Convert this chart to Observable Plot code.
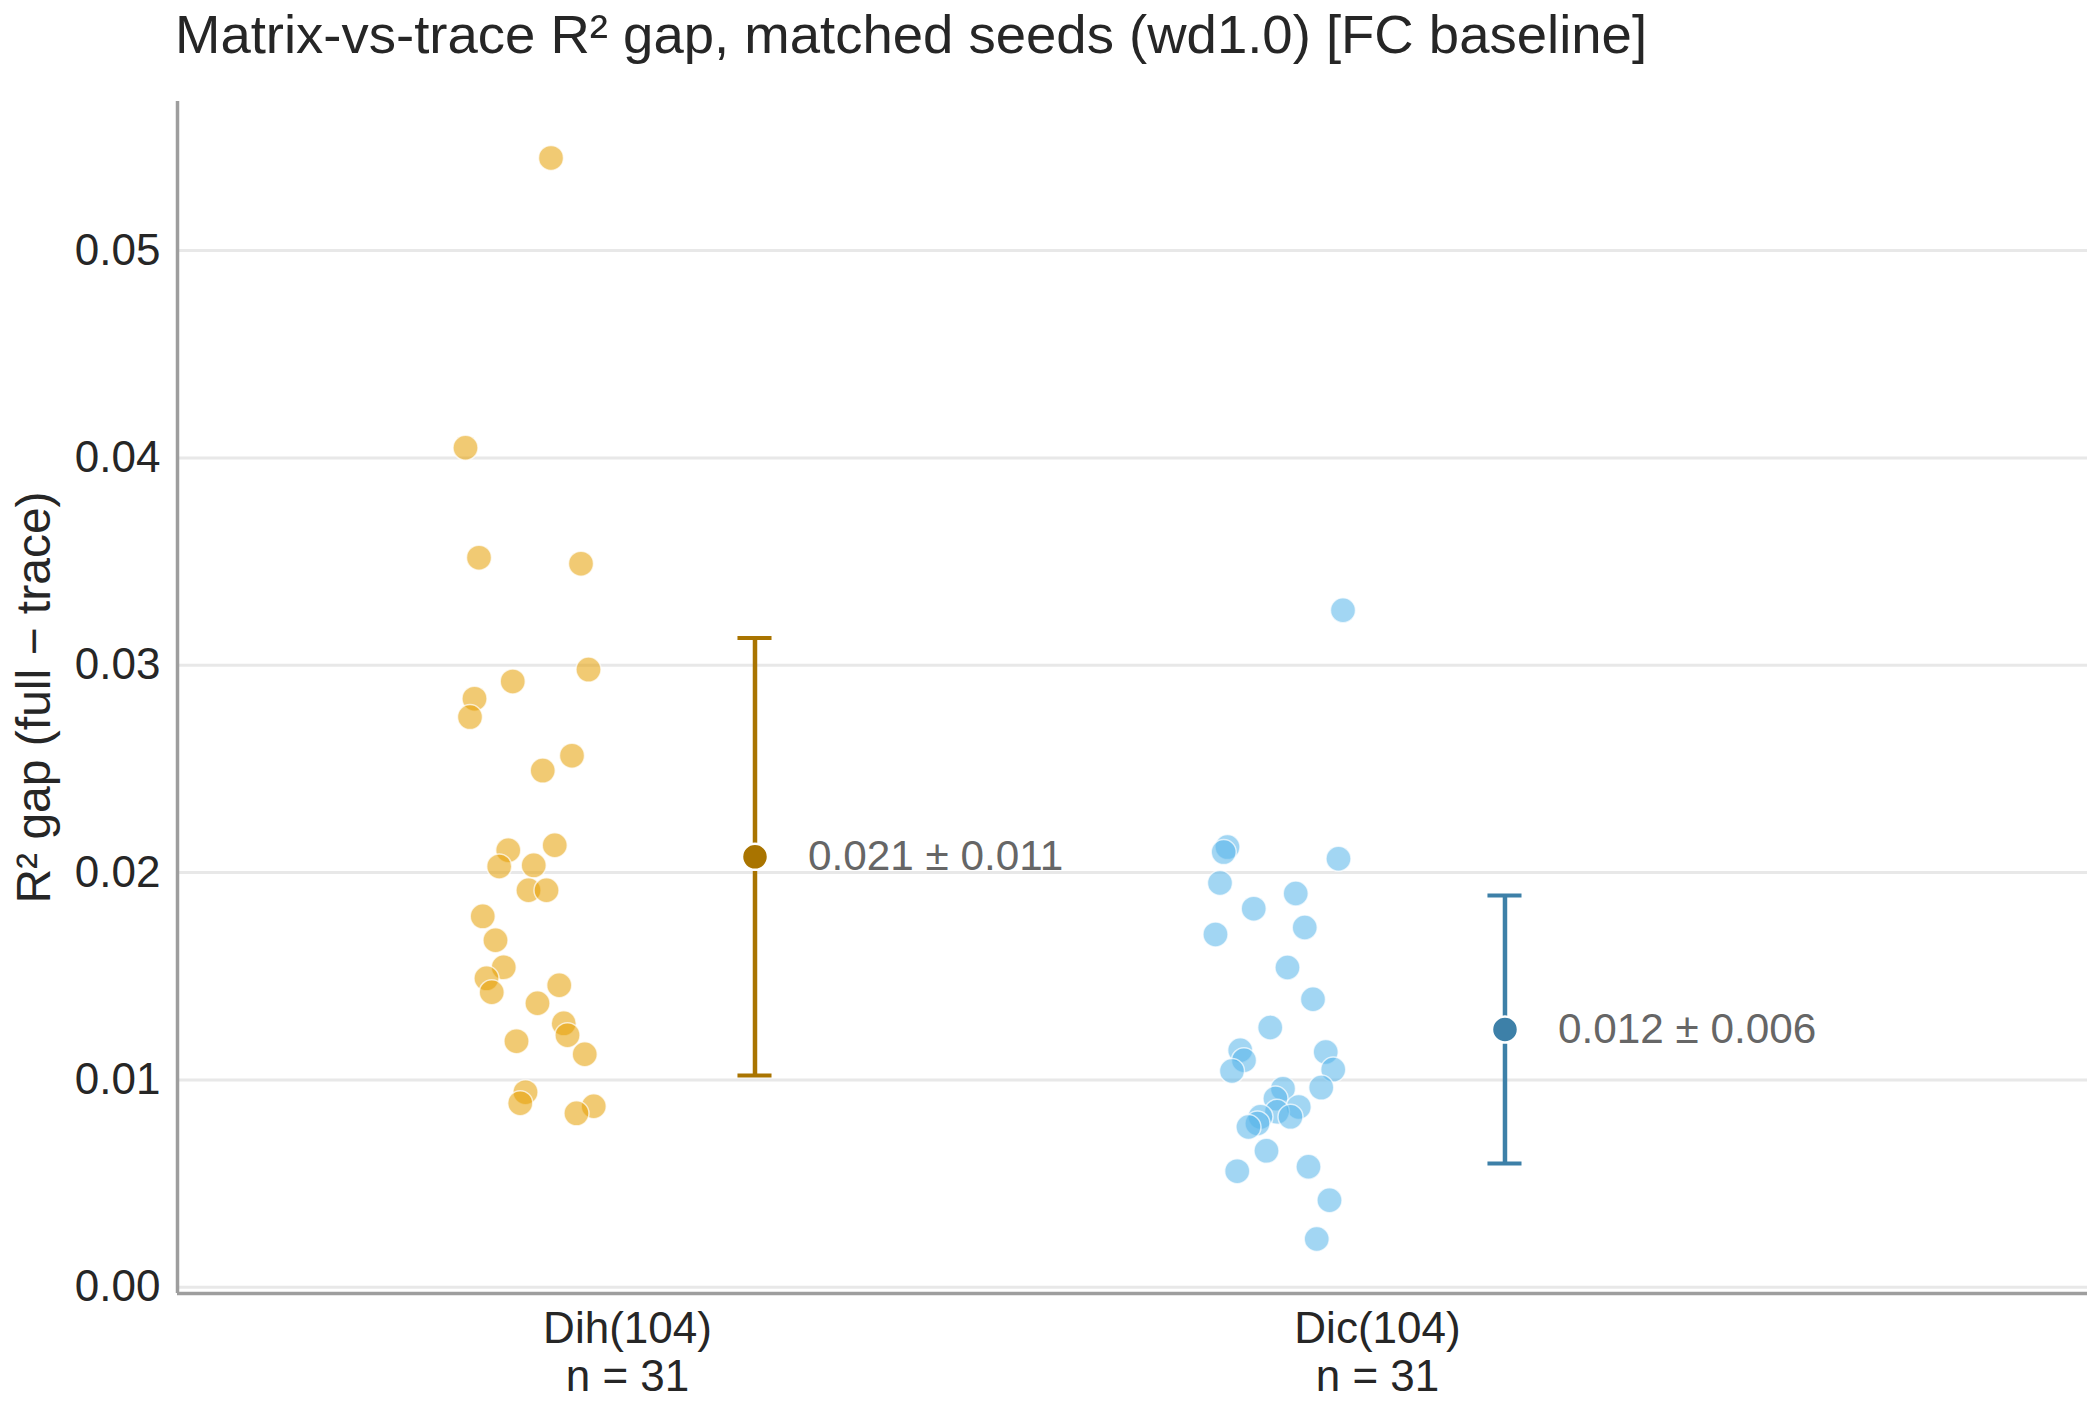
<!DOCTYPE html>
<html>
<head>
<meta charset="utf-8">
<script src="https://cdn.jsdelivr.net/npm/d3@7"></script>
<script src="https://cdn.jsdelivr.net/npm/@observablehq/plot@0.6"></script>
<style>
  html, body { margin: 0; padding: 0; background: #fff; }
  #title { height: 80px; line-height: 70px; font-family: "Liberation Sans", Arial, sans-serif; font-size: 54.5px; color: #262626; padding-left: 175px; white-space: nowrap; }
</style>
</head>
<body>
<div id="title">Matrix-vs-trace R² gap, matched seeds (wd1.0) [FC baseline]</div>
<div id="chart"></div>
<script>
const categories = ["Dih(104)", "Dic(104)"];
const nLabels = ["n = 31", "n = 31"];
const yTicks = [0, 0.01, 0.02, 0.03, 0.04, 0.05];
const yLabel = "R² gap (full − trace)";

const dihValues = [0.05447, 0.04049, 0.03519, 0.03490, 0.02979, 0.02922, 0.02839, 0.02750, 0.02564, 0.02492,
  0.02108, 0.02030, 0.02132, 0.02035, 0.01915, 0.01915, 0.01789, 0.01674, 0.01543, 0.01490,
  0.01423, 0.01457, 0.01370, 0.01273, 0.01216, 0.01124, 0.01187, 0.00941, 0.00888, 0.00873, 0.00839];
const dihJitter = [-0.102, -0.216, -0.198, -0.062, -0.052, -0.153, -0.204, -0.210, -0.074, -0.113,
  -0.159, -0.171, -0.097, -0.125, -0.132, -0.108, -0.193, -0.176, -0.165, -0.188,
  -0.181, -0.091, -0.120, -0.085, -0.080, -0.057, -0.148, -0.136, -0.143, -0.045, -0.068];

const dicValues = [0.03265, 0.02123, 0.02099, 0.02067, 0.01950, 0.01899, 0.01826, 0.01735, 0.01702, 0.01542,
  0.01389, 0.01253, 0.01143, 0.01095, 0.01043, 0.01135, 0.01050, 0.00963, 0.00958, 0.00910,
  0.00870, 0.00846, 0.00822, 0.00822, 0.00790, 0.00773, 0.00658, 0.00560, 0.00581, 0.00420, 0.00233];
const dicJitter = [-0.046, -0.200, -0.205, -0.052, -0.210, -0.109, -0.165, -0.097, -0.216, -0.120,
  -0.086, -0.143, -0.183, -0.178, -0.194, -0.069, -0.059, -0.075, -0.126, -0.136,
  -0.105, -0.134, -0.116, -0.156, -0.160, -0.172, -0.148, -0.187, -0.092, -0.064, -0.081];

const meanValues = [0.02076, 0.01243];
const sdValues = [0.01055, 0.00646];

const pointColors = ["#E69F00", "#56B4E9"];
const summaryColors = ["#A97400", "#3D80A8"];

const xDomain = [-0.6, 1.9467];
const yDomain = [-0.0003, 0.05719];
const summaryShift = 0.17;
const capHalf = 0.0227;

const fmt = d3.format(".3f");
const dihPoints = dihValues.map((v, i) => ({x: 0 + dihJitter[i], y: v}));
const dicPoints = dicValues.map((v, i) => ({x: 1 + dicJitter[i], y: v}));
const summary = categories.map((c, i) => ({
  x: i + summaryShift,
  mean: meanValues[i],
  lo: meanValues[i] - sdValues[i],
  hi: meanValues[i] + sdValues[i],
  label: `${fmt(meanValues[i])} ± ${fmt(sdValues[i])}`,
  color: summaryColors[i]
}));

const chart = Plot.plot({
  width: 2100,
  height: 1330,
  marginTop: 21,
  marginBottom: 117,
  marginLeft: 177,
  marginRight: 13,
  style: {fontFamily: "'Liberation Sans', Arial, sans-serif", background: "#fff", color: "#262626"},
  x: {domain: xDomain},
  y: {domain: yDomain},
  marks: [
    Plot.gridY(yTicks, {stroke: "#e8e8e8", strokeOpacity: 1, strokeWidth: 3}),
    Plot.ruleX([xDomain[0]], {stroke: "#9e9e9e", strokeWidth: 3.5}),
    Plot.ruleY([yDomain[0]], {stroke: "#9e9e9e", strokeWidth: 3.5}),
    Plot.dot(dihPoints, {x: "x", y: "y", r: 12.5, fill: pointColors[0], fillOpacity: 0.55, stroke: "#fff", strokeOpacity: 0.7, strokeWidth: 1.5}),
    Plot.dot(dicPoints, {x: "x", y: "y", r: 12.5, fill: pointColors[1], fillOpacity: 0.55, stroke: "#fff", strokeOpacity: 0.7, strokeWidth: 1.5}),
    Plot.ruleX(summary, {x: "x", y1: "lo", y2: "hi", stroke: "color", strokeWidth: 4.5}),
    Plot.ruleY(summary, {y: "hi", x1: d => d.x - capHalf, x2: d => d.x + capHalf, stroke: "color", strokeWidth: 4}),
    Plot.ruleY(summary, {y: "lo", x1: d => d.x - capHalf, x2: d => d.x + capHalf, stroke: "color", strokeWidth: 4}),
    Plot.dot(summary, {x: "x", y: "mean", r: 13, fill: "color", stroke: "#fff", strokeWidth: 2.5}),
    Plot.text(summary, {x: "x", y: "mean", text: "label", dx: 53, textAnchor: "start", fontSize: 42.3, fill: "#666"}),
    Plot.axisY({ticks: yTicks, tickFormat: d3.format(".2f"), tickSize: 0, tickPadding: 17, fontSize: 44, fill: "#262626", label: null}),
    Plot.axisX({ticks: [0, 1], tickFormat: i => categories[i] + "\n" + nLabels[i], tickSize: 0, tickPadding: 15, fontSize: 44, lineHeight: 1.1, fill: "#262626", label: null}),
    Plot.text([yLabel], {frameAnchor: "left", textAnchor: "middle", rotate: -90, dx: -143, fontSize: 48, fill: "#262626"})
  ]
});
document.getElementById("chart").appendChild(chart);
</script>
</body>
</html>
